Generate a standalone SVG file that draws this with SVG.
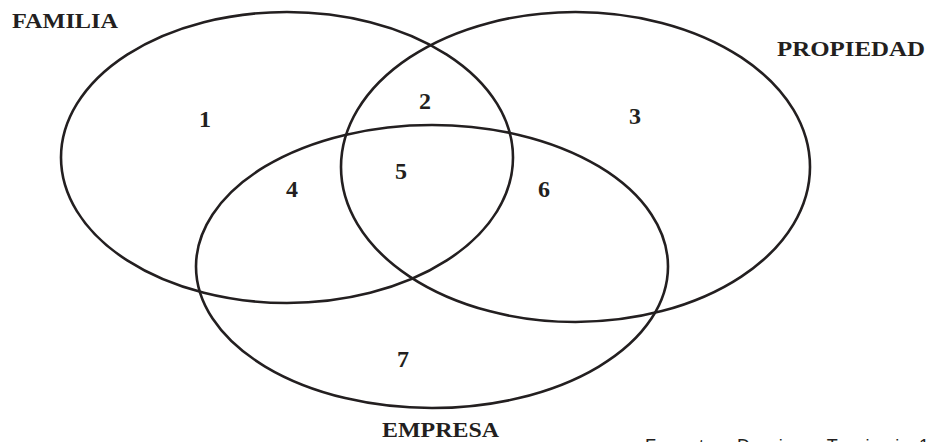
<svg xmlns="http://www.w3.org/2000/svg" width="929" height="442" viewBox="0 0 929 442">
<style>
.set{fill:none;stroke:#231f20;stroke-width:2.6}
.lbl{font-family:"Liberation Serif","Times New Roman",serif;font-weight:bold;font-size:22px;fill:#231f20}
.num{font-family:"Liberation Serif","Times New Roman",serif;font-weight:bold;font-size:24px;fill:#231f20;text-anchor:middle}
.src{font-family:"Liberation Sans",Arial,sans-serif;font-size:18px;fill:#231f20}
</style>
<rect width="929" height="442" fill="#ffffff"/>
<g id="connectors"/>
<g id="familia">
<ellipse class="set" cx="287" cy="157.5" rx="226" ry="145.5"/>
<text class="lbl" x="12" y="28" textLength="106" lengthAdjust="spacingAndGlyphs">FAMILIA</text>
</g>
<g id="propiedad">
<ellipse class="set" cx="575.5" cy="167" rx="234.5" ry="155"/>
<text class="lbl" x="777" y="56" textLength="148" lengthAdjust="spacingAndGlyphs">PROPIEDAD</text>
</g>
<g id="empresa">
<ellipse class="set" cx="432" cy="266.5" rx="236" ry="141.5"/>
<text class="lbl" x="382" y="437" textLength="117" lengthAdjust="spacingAndGlyphs">EMPRESA</text>
</g>
<g id="regions">
<text class="num" x="205" y="127">1</text>
<text class="num" x="425" y="109">2</text>
<text class="num" x="635" y="124">3</text>
<text class="num" x="292" y="197">4</text>
<text class="num" x="401" y="179">5</text>
<text class="num" x="544" y="197">6</text>
<text class="num" x="403" y="367">7</text>
</g>
<text class="src" x="645" y="452" textLength="284" lengthAdjust="spacing">Fuente: Davis y Tagiuri, 1</text>
</svg>
